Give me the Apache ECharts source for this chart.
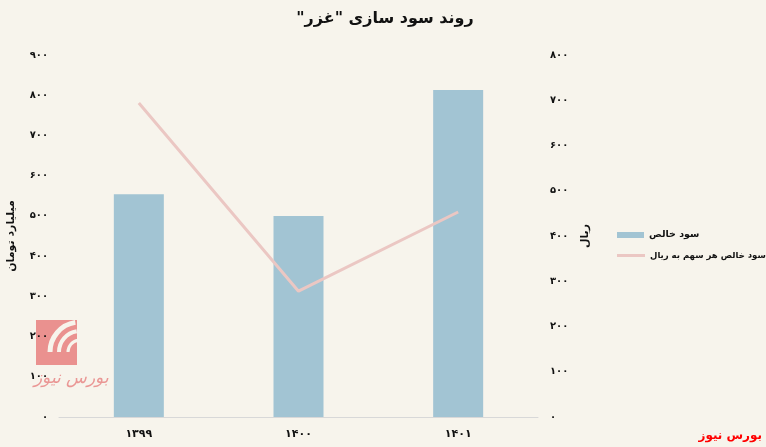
<!DOCTYPE html>
<html>
<head>
<meta charset="utf-8">
<script src="https://cdn.jsdelivr.net/npm/echarts@6/dist/echarts.min.js"></script>
<style>html,body{margin:0;padding:0;background:#f7f4ec;}#c{width:766px;height:447px;}</style>
</head>
<body>
<div id="c"></div>
<script>
const categories = ['۱۳۹۹', '۱۴۰۰', '۱۴۰۱'];
const netProfit = [554, 500, 813];
const epsRial = [694, 278, 453];
const leftTickLabels = ['۰', '۱۰۰', '۲۰۰', '۳۰۰', '۴۰۰', '۵۰۰', '۶۰۰', '۷۰۰', '۸۰۰', '۹۰۰'];
const rightTickLabels = ['۰', '۱۰۰', '۲۰۰', '۳۰۰', '۴۰۰', '۵۰۰', '۶۰۰', '۷۰۰', '۸۰۰'];

const FONT = 'DejaVu Sans';
const RLM = '\u200F';
const chart = echarts.init(document.getElementById('c'));
chart.setOption({
  backgroundColor: '#f7f4ec',
  animation: false,
  title: {
    text: RLM + 'روند سود سازی "غزر"' + RLM,
    left: 380, top: 6, textAlign: 'center',
    textStyle: { fontFamily: FONT, fontSize: 16, fontWeight: 'bold', color: '#111' }
  },
  legend: [{
    data: [{ name: 'سود خالص', icon: 'rect' }],
    orient: 'vertical', left: 617, top: 230, padding: 0,
    itemWidth: 27, itemHeight: 6, itemGap: 10,
    textStyle: { fontFamily: FONT, fontSize: 9.5, fontWeight: 'bold', color: '#111' }
  }, {
    data: [{ name: 'سود خالص هر سهم به ریال', icon: 'rect' }],
    orient: 'vertical', left: 617, top: 251, padding: 0,
    itemWidth: 28, itemHeight: 3, itemGap: 10,
    textStyle: { fontFamily: FONT, fontSize: 8.5, fontWeight: 'bold', color: '#111' }
  }],
  grid: { left: 59, right: 228, top: 55, bottom: 30, outerBoundsMode: 'none', containLabel: false },
  xAxis: {
    type: 'category', data: categories,
    axisLine: { lineStyle: { color: '#d8d8d8', width: 1 } },
    axisTick: { show: false },
    axisLabel: { fontFamily: FONT, fontSize: 11, fontWeight: 'bold', color: '#111', margin: 12 }
  },
  yAxis: [{
    type: 'value', min: 0, max: 900, interval: 100,
    name: 'میلیارد تومان', nameLocation: 'middle', nameGap: 42,
    nameTextStyle: { fontFamily: FONT, fontSize: 11, fontWeight: 'bold', color: '#111' },
    axisLine: { show: false }, axisTick: { show: false }, splitLine: { show: false },
    axisLabel: { fontFamily: FONT, fontSize: 10, fontWeight: 'bold', color: '#111', margin: 11,
      formatter: v => leftTickLabels[Math.round(v / 100)] }
  }, {
    type: 'value', min: 0, max: 800, interval: 100, position: 'right',
    name: 'ریال', nameLocation: 'middle', nameGap: 40,
    nameTextStyle: { fontFamily: FONT, fontSize: 11, fontWeight: 'bold', color: '#111' },
    axisLine: { show: false }, axisTick: { show: false }, splitLine: { show: false },
    axisLabel: { fontFamily: FONT, fontSize: 10, fontWeight: 'bold', color: '#111', margin: 12,
      formatter: v => rightTickLabels[Math.round(v / 100)] }
  }],
  series: [{
    name: 'سود خالص', type: 'bar', data: netProfit, barWidth: 50,
    itemStyle: { color: '#a2c4d3' }, z: 2
  }, {
    name: 'سود خالص هر سهم به ریال', type: 'line', yAxisIndex: 1, data: epsRial,
    showSymbol: false, symbol: 'none',
    lineStyle: { color: '#ebc7c3', width: 3 }, itemStyle: { color: '#ebc7c3' }, z: 3
  }],
  graphic: [
    { type: 'rect', left: 36, top: 320, shape: { width: 41, height: 45 }, style: { fill: 'rgba(230,120,120,0.8)' }, z: 0 },
    { type: 'arc', shape: { cx: 80, cy: 352, r: 30, startAngle: Math.PI * 1.0, endAngle: Math.PI * 1.45 }, style: { stroke: '#f7f4ec', lineWidth: 5, fill: null }, z: 1 },
    { type: 'arc', shape: { cx: 80, cy: 352, r: 21, startAngle: Math.PI * 1.0, endAngle: Math.PI * 1.45 }, style: { stroke: '#f7f4ec', lineWidth: 4, fill: null }, z: 1 },
    { type: 'arc', shape: { cx: 80, cy: 352, r: 12, startAngle: Math.PI * 1.0, endAngle: Math.PI * 1.45 }, style: { stroke: '#f7f4ec', lineWidth: 3, fill: null }, z: 1 },
    { type: 'text', left: 34, top: 370, style: { text: 'بورس نیوز', font: 'italic 17px DejaVu Serif', fill: 'rgba(230,120,120,0.75)' }, z: 1 },
    { type: 'text', right: 4, top: 430, style: { text: 'بورس نیوز', font: 'bold 12px DejaVu Sans', fill: '#ff0000' }, z: 5 }
  ]
});
</script>
</body>
</html>
